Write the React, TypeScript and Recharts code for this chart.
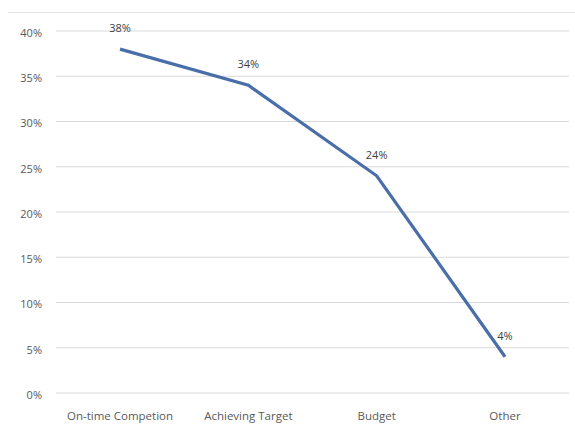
import { LineChart, Line, XAxis, YAxis, CartesianGrid, LabelList } from 'recharts'

const categories = ['On-time Competion', 'Achieving Target', 'Budget', 'Other']
const shares = [38, 34, 24, 4]
const yTicks = [0, 5, 10, 15, 20, 25, 30, 35, 40]

const data = categories.map((name, i) => ({ name, value: shares[i] }))

const font = "'Open Sans', 'Noto Sans', sans-serif"

export default function App() {
  return (
    <div style={{ position: 'absolute', left: 0, top: 0, width: 575, height: 428, background: '#fff', fontFamily: font }}>
      <div style={{ position: 'absolute', left: 8, right: 0, top: 12, borderTop: '1px solid #e4e4e4' }} />
      <LineChart width={575} height={428} data={data} margin={{ top: 31, right: 6, left: 0, bottom: 0 }}>
        <CartesianGrid vertical={false} stroke="#d9d9d9" />
        <XAxis
          dataKey="name"
          axisLine={false}
          tickLine={false}
          height={35}
          tickMargin={13}
          padding={{ left: 64, right: 64 }}
          tick={{ fontSize: 11.5, fill: '#595959', fontFamily: font }}
        />
        <YAxis
          domain={[0, 40]}
          ticks={yTicks}
          axisLine={false}
          tickLine={false}
          width={56}
          tickMargin={8}
          tickFormatter={(v) => `${v}%`}
          tick={{ fontSize: 11, fill: '#595959', fontFamily: font, dy: 2 }}
        />
        <Line type="linear" dataKey="value" stroke="#4a6ea8" strokeWidth={3.2} dot={false} isAnimationActive={false}>
          <LabelList dataKey="value" position="top" offset={17} formatter={(v: any) => `${v}%`} style={{ fontSize: 11, fill: '#404040', fontFamily: font }} />
        </Line>
      </LineChart>
    </div>
  )
}
